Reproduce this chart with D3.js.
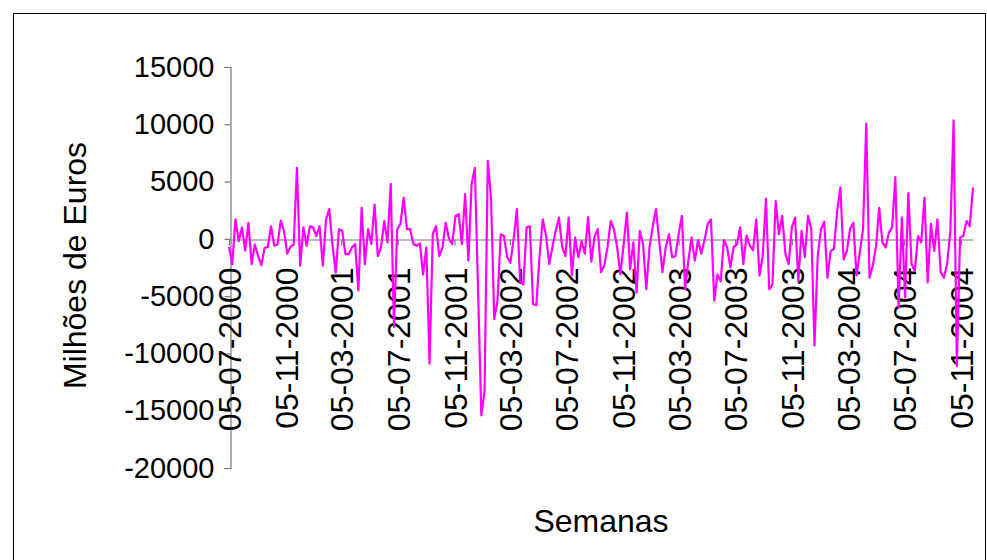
<!DOCTYPE html>
<html>
<head>
<meta charset="utf-8">
<script src="https://cdn.jsdelivr.net/npm/d3@7"></script>
<style>
  html, body { margin: 0; padding: 0; background: #fff; }
  svg { display: block; font-family: "Liberation Sans", Arial, sans-serif; }
</style>
</head>
<body>
<svg id="chart" width="987" height="560"></svg>
<script>
// Weekly net flows (millions of euros), one value per week starting 05-07-2000
const firstWeek = "05-07-2000";
const weeklyValues = [
  -700, -2200, 1700, -200, 1000, -1000, 1400, -2200, -500, -1500,
  -2300, -800, -700, 1100, -600, -500, 1600, 700, -1300, -700,
  -500, 6200, -2350, 1000, -600, 1100, 1000, 250, 1100, -2350,
  1700, 2600, -600, -2950, 850, 700, -1340, -1340, -750, -450,
  -4500, 2700, -2200, 850, -450, 3000, -1500, -750, 1550, -300,
  4800, -7700, 850, 1300, 3600, 850, 850, -450, -600, -400,
  -3100, -750, -10900, 400, 1100, -1500, -750, 1400, 0, -450,
  2000, 2150, -450, 3900, -1900, 4800, 6200, -4500, -15400, -13300,
  6800, 3600, -7000, -5400, 400, 250, -1600, -2100, 0, 2600,
  -3700, -4000, 1000, 1100, -5700, -5800, -1500, 1700, 300, -2200,
  -700, 700, 1850, -700, -1500, 1850, -3200, 100, -1600, -200,
  -1300, 1900, -2000, 200, 850, -2900, -2350, -750, 1550, 850,
  -750, -3100, -450, 2300, -2650, -300, -4700, 700, -450, -4400,
  -750, 1100, 2600, -200, -2900, -750, 400, -1600, -1500, 400,
  2000, -4400, -1900, 100, -1900, -100, -1300, -100, 1300, 1700,
  -5400, -3100, -3700, -100, -750, -2500, -700, -500, 1000, -2200,
  300, -600, -1000, 1700, -3200, -1500, 3500, -4400, -4000, 3300,
  400, 2000, -1300, -2200, 1000, 1850, -3700, 700, -1600, 2000,
  850, -9300, -1500, 850, 1500, -3400, -1050, -900, 2400, 4500,
  -1800, -1050, 850, 1400, -3200, -1200, 850, 10050, -3400, -2350,
  -700, 2700, -300, -750, 550, 1000, 5400, -6000, 1850, -5100,
  4000, -2200, -2800, 250, -300, 3600, -3800, 1300, -1050, 1700,
  -2900, -3400, -2200, 700, 10350, -11100, 100, 250, 1550, 1100,
  4500
];

// Axis tick labels
const xTickLabels = [
  "05-07-2000", "05-11-2000", "05-03-2001", "05-07-2001", "05-11-2001",
  "05-03-2002", "05-07-2002", "05-11-2002", "05-03-2003", "05-07-2003",
  "05-11-2003", "05-03-2004", "05-07-2004", "05-11-2004"
];
const yTickValues = [15000, 10000, 5000, 0, -5000, -10000, -15000, -20000];

const yTitle = "Milhões de Euros";
const xTitle = "Semanas";

const parseDate = d3.timeParse("%d-%m-%Y");
const start = parseDate(firstWeek);
const series = weeklyValues.map((v, i) => ({ date: d3.timeDay.offset(start, 7 * i), value: v }));

const svg = d3.select("#chart");

// outer frame
svg.append("rect")
  .attr("x", 13.5).attr("y", 13.5)
  .attr("width", 972).attr("height", 560)
  .attr("fill", "none").attr("stroke", "#000").attr("stroke-width", 1);

const plot = { left: 230, right: 973, top: 67, bottom: 468 };

const x = d3.scaleTime()
  .domain([start, series[series.length - 1].date])
  .range([plot.left - 1, plot.right]);

const y = d3.scaleLinear()
  .domain([-20000, 15000])
  .range([plot.bottom, plot.top]);

const axisColor = "#777";

// y axis
const yAxis = svg.append("g")
  .attr("transform", `translate(${plot.left + 0.5},0)`)
  .call(d3.axisLeft(y).tickValues(yTickValues).tickSize(6).tickPadding(10).tickFormat(d3.format("d")));
yAxis.select(".domain").attr("stroke", axisColor).attr("stroke-width", 1.2);
yAxis.selectAll(".tick line").attr("stroke", axisColor).attr("stroke-width", 1.2);
yAxis.selectAll(".tick text")
  .attr("fill", "#000")
  .style("font-size", "29px")
  .style("font-family", "'Liberation Sans', Arial, sans-serif")
  .text(d => d < 0 ? "-" + Math.abs(d) : String(d));

// x axis at zero
const xTicks = xTickLabels.map(parseDate);
const xAxis = svg.append("g")
  .attr("transform", `translate(0,${Math.round(y(0)) + 0.5})`)
  .call(d3.axisBottom(x).tickValues(xTicks).tickSize(6).tickSizeOuter(0).tickFormat(d3.timeFormat("%d-%m-%Y")));
xAxis.select(".domain").attr("stroke", axisColor).attr("stroke-width", 1.2);
xAxis.selectAll(".tick line").attr("stroke", axisColor).attr("stroke-width", 1.2);
xAxis.selectAll(".tick text")
  .attr("fill", "#000")
  .style("font-size", "32px")
  .style("font-family", "'Liberation Sans', Arial, sans-serif")
  .attr("text-anchor", "end")
  .attr("transform", "rotate(-90)")
  .attr("x", -28)
  .attr("y", 0)
  .attr("dy", "0.36em");

// series line
const line = d3.line()
  .x(d => x(d.date))
  .y(d => y(d.value));

svg.append("path")
  .datum(series)
  .attr("fill", "none")
  .attr("stroke", "#ff00ff")
  .attr("stroke-width", 2.2)
  .attr("stroke-linejoin", "round")
  .attr("d", line);

// axis titles
svg.append("text")
  .attr("transform", `translate(86,${(plot.top + plot.bottom) / 2 - 2}) rotate(-90)`)
  .attr("text-anchor", "middle")
  .style("font-size", "32px")
  .attr("fill", "#000")
  .text(yTitle);

svg.append("text")
  .attr("x", 601).attr("y", 532)
  .attr("text-anchor", "middle")
  .style("font-size", "32px")
  .attr("fill", "#000")
  .text(xTitle);
</script>
</body>
</html>
